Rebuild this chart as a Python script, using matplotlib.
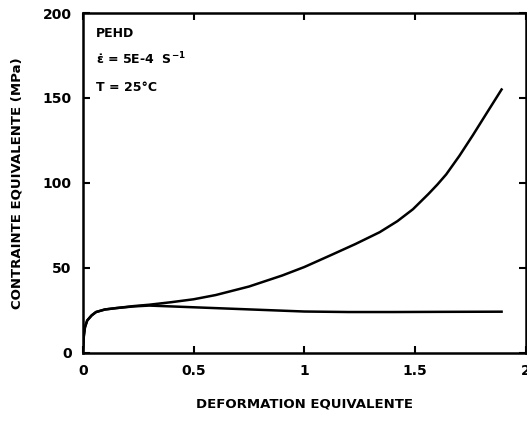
import matplotlib
matplotlib.use("Agg")
import matplotlib.pyplot as plt

# curve: hardening branch (upper)
strain_up = [0, 0.005, 0.01, 0.02, 0.04, 0.06, 0.1, 0.15, 0.23, 0.3, 0.4, 0.5, 0.6,
             0.75, 0.9, 1.0, 1.12, 1.23, 1.34, 1.42, 1.49, 1.56, 1.6, 1.64, 1.7,
             1.76, 1.82, 1.89]
stress_up = [0, 10, 15, 19, 22, 24, 25.5, 26.3, 27.5, 28.3, 29.8, 31.5, 34,
             39, 45.5, 50.5, 57.5, 64, 71, 77.5, 84.5, 93.5, 99, 105, 116,
             128, 140.5, 155]

# softening branch (lower)
strain_low = [0, 0.005, 0.01, 0.02, 0.04, 0.06, 0.1, 0.15, 0.23, 0.3, 0.4, 0.5,
              0.7, 0.9, 1.0, 1.2, 1.4, 1.6, 1.89]
stress_low = [0, 10, 15, 19, 22, 24, 25.5, 26.3, 27.3, 27.8, 27.3, 26.8,
              25.8, 24.8, 24.3, 24.0, 24.0, 24.1, 24.2]

xticks = [0, 0.5, 1, 1.5, 2]
xticklabels = ["0", "0.5", "1", "1.5", "2"]
yticks = [0, 50, 100, 150, 200]

plt.rcParams["mathtext.default"] = "bf"

fig = plt.figure(figsize=(5.27, 4.21), dpi=100)
ax = fig.add_axes([0.157, 0.162, 0.841, 0.807])

ax.plot(strain_up, stress_up, color="black", linewidth=1.8)
ax.plot(strain_low, stress_low, color="black", linewidth=1.8)

ax.set_xlim(0, 2)
ax.set_ylim(0, 200)
ax.set_xticks(xticks)
ax.set_xticklabels(xticklabels)
ax.set_yticks(yticks)
ax.tick_params(direction="in", top=True, right=True, length=5, width=1.5,
               labelsize=10, pad=8)
for lab in ax.get_xticklabels() + ax.get_yticklabels():
    lab.set_fontweight("bold")
for sp in ax.spines.values():
    sp.set_linewidth(1.8)

ax.set_xlabel("DEFORMATION EQUIVALENTE", fontsize=9.5, fontweight="bold", labelpad=14)
ax.set_ylabel("CONTRAINTE EQUIVALENTE (MPa)", fontsize=9.5, fontweight="bold", labelpad=14)

ax.text(0.03, 0.96, "PEHD", transform=ax.transAxes, fontsize=9, fontweight="bold", va="top")
ax.text(0.03, 0.89, r"$\dot{\varepsilon}$ = 5E-4  S$^{-1}$", transform=ax.transAxes,
        fontsize=9, fontweight="bold", va="top")
ax.text(0.03, 0.80, "T = 25°C", transform=ax.transAxes, fontsize=9, fontweight="bold", va="top")

fig.savefig("out.png", dpi=100)
